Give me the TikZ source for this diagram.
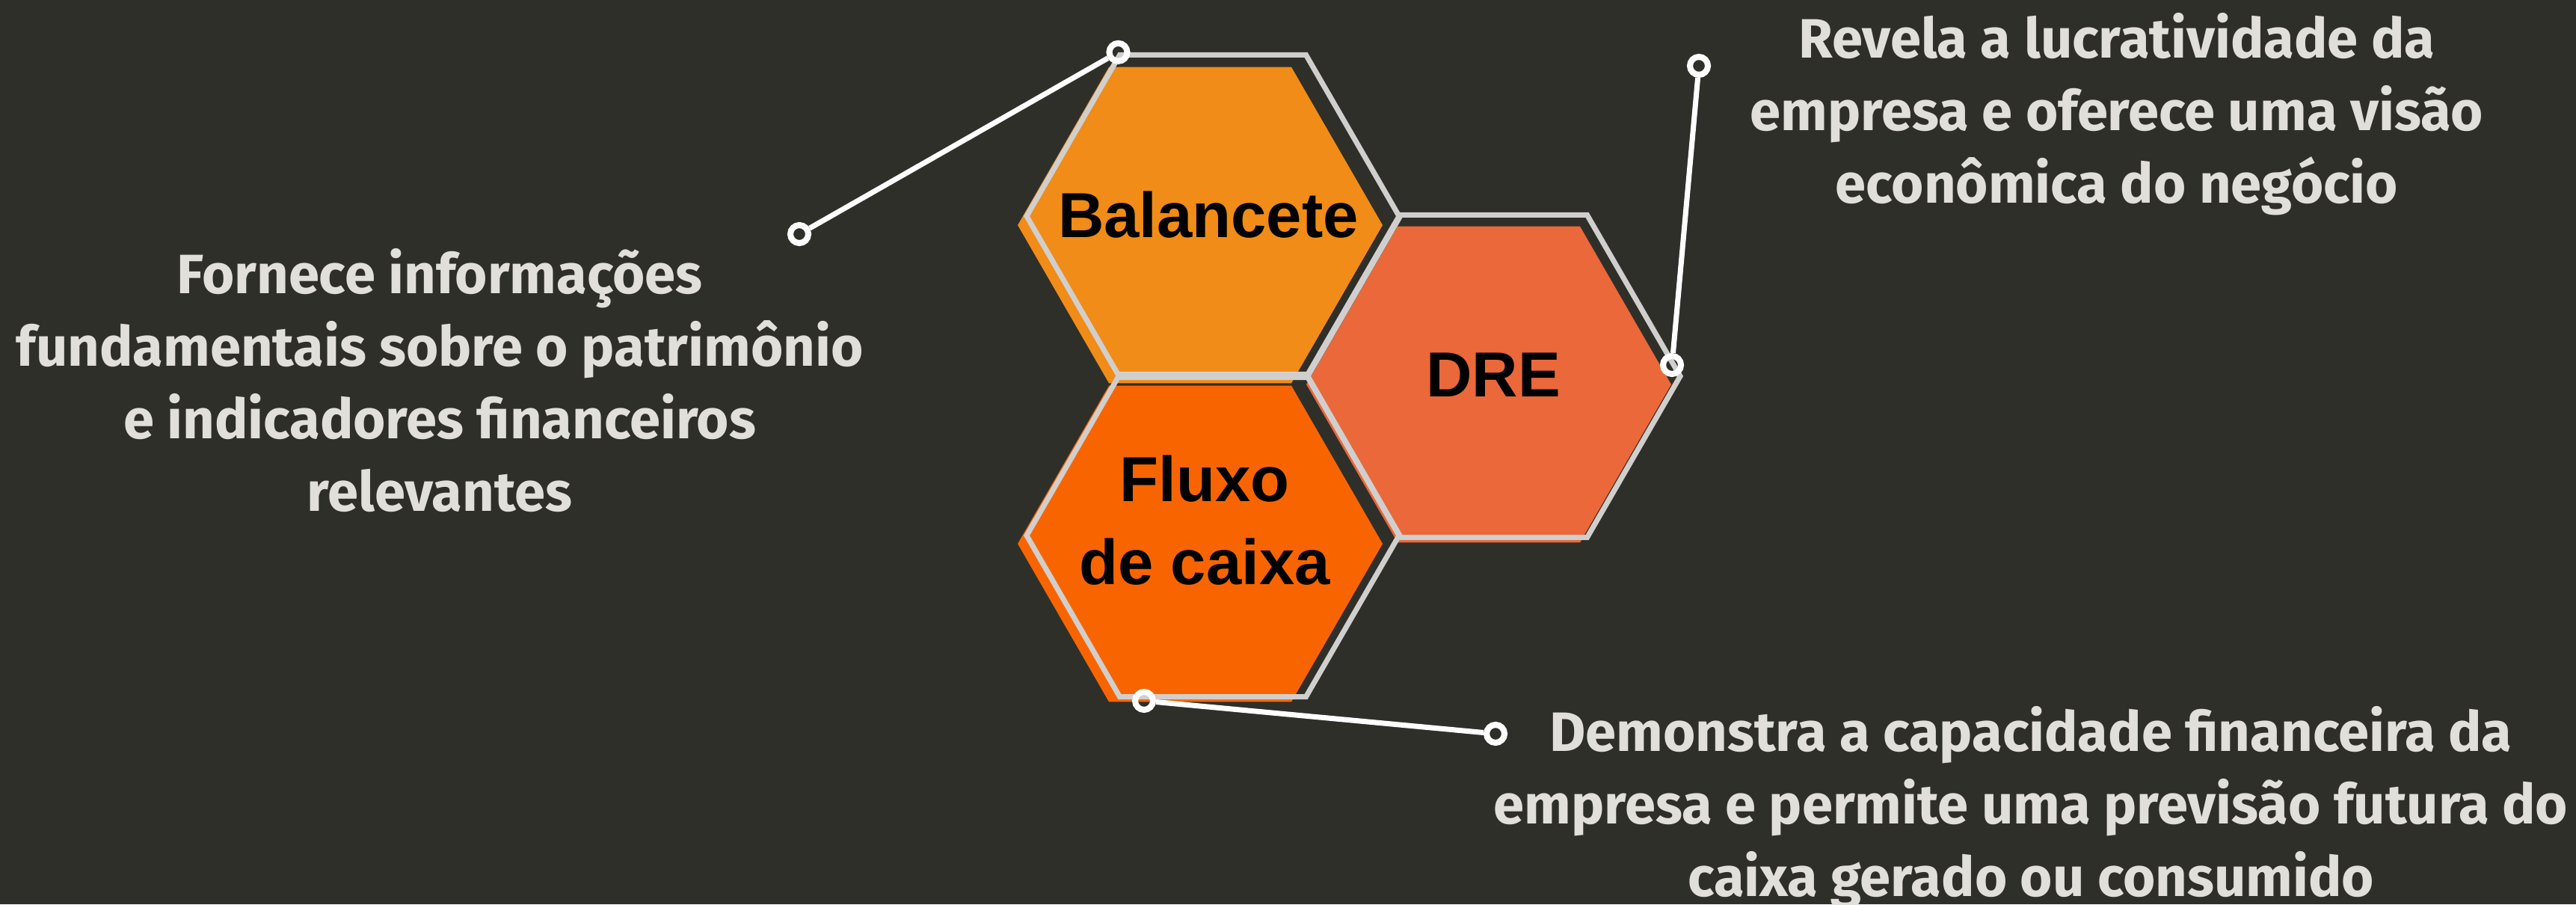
\documentclass[tikz,border=0pt]{standalone}
\usepackage{fontspec}
\setmainfont{Fira Sans}
\newfontfamily\hexfont{Liberation Sans}
\usetikzlibrary{shapes.geometric,positioning}
\definecolor{bgdark}{HTML}{2F2F2A}
\definecolor{hexgray}{HTML}{D1CFCD}
\definecolor{notegray}{HTML}{E1DFD9}
\definecolor{balfill}{HTML}{F08C17}
\definecolor{drefill}{HTML}{EA683A}
\definecolor{fluxfill}{HTML}{F86500}
\tikzstyle{hexfill} = [regular polygon, regular polygon sides=6, minimum size=4.88cm, inner sep=0pt]
\tikzstyle{hexline} = [regular polygon, regular polygon sides=6, minimum size=4.98cm, inner sep=0pt, draw=hexgray, line width=2pt]
\tikzstyle{hexlabel} = [font=\hexfont\bfseries\fontsize{24.2}{31.6}\selectfont, align=center, text=black, inner sep=0pt]
\tikzstyle{note} = [font=\bfseries\fontsize{21.1}{27.6}\selectfont, align=center, text=notegray, inner sep=0pt]
\tikzstyle{pin} = [circle, draw=white, line width=2.3pt, minimum size=0.24cm, inner sep=0pt]
\tikzstyle{link} = [draw=white, line width=2pt]
\begin{document}
\begin{tikzpicture} %[every node/.style={inner sep=0pt}]
\useasboundingbox (0,0) rectangle (34.45,-12.09);
\fill[bgdark] (0,0) rectangle (34.45,-12.09);
\node[hexfill, fill=balfill] (balF) at (16.05,-3.01) {};
\node[hexfill, fill=drefill] (dreF) at (19.91,-5.14) {};
\node[hexfill, fill=fluxfill] (fluxF) at (16.05,-7.27) {};
\node[hexline] (bal) at (16.22,-2.89) {};
\node[hexline] (dre) at (19.98,-5.03) {};
\node[hexline] (flux) at (16.22,-7.16) {};
\node[hexlabel] (balT) at (16.16,-2.87) {Balancete};
\node[hexlabel] (dreT) at (19.97,-5.015) {DRE};
\node[hexlabel] (fluxT) at (16.11,-6.96) {Fluxo\\de caixa};
\node[note] (balNote) at (5.88,-5.085) {Fornece informações\\fundamentais sobre o patrimônio\\e indicadores financeiros\\relevantes};
\node[note] (dreNote) at (28.31,-1.53) {Revela a lucratividade da\\empresa e oferece uma visão\\econômica do negócio};
\node[note] (fluxNote) at (27.16,-10.80) {Demonstra a capacidade financeira da\\empresa e permite uma previsão futura do\\caixa gerado ou consumido};
\node[pin] (pA) at (bal.corner 2) {};
\node[pin] (pB) at (10.69,-3.13) {};
\node[pin] (pC) at (22.72,-0.88) {};
\node[pin] (pD) at (22.36,-4.88) {};
\node[pin] (pE) at (15.30,-9.37) {};
\node[pin] (pF) at (20.00,-9.81) {};
\draw[link] (pB)--(pA);
\draw[link] (pC)--(pD);
\draw[link] (pE)--(pF);
\end{tikzpicture}
\end{document}
